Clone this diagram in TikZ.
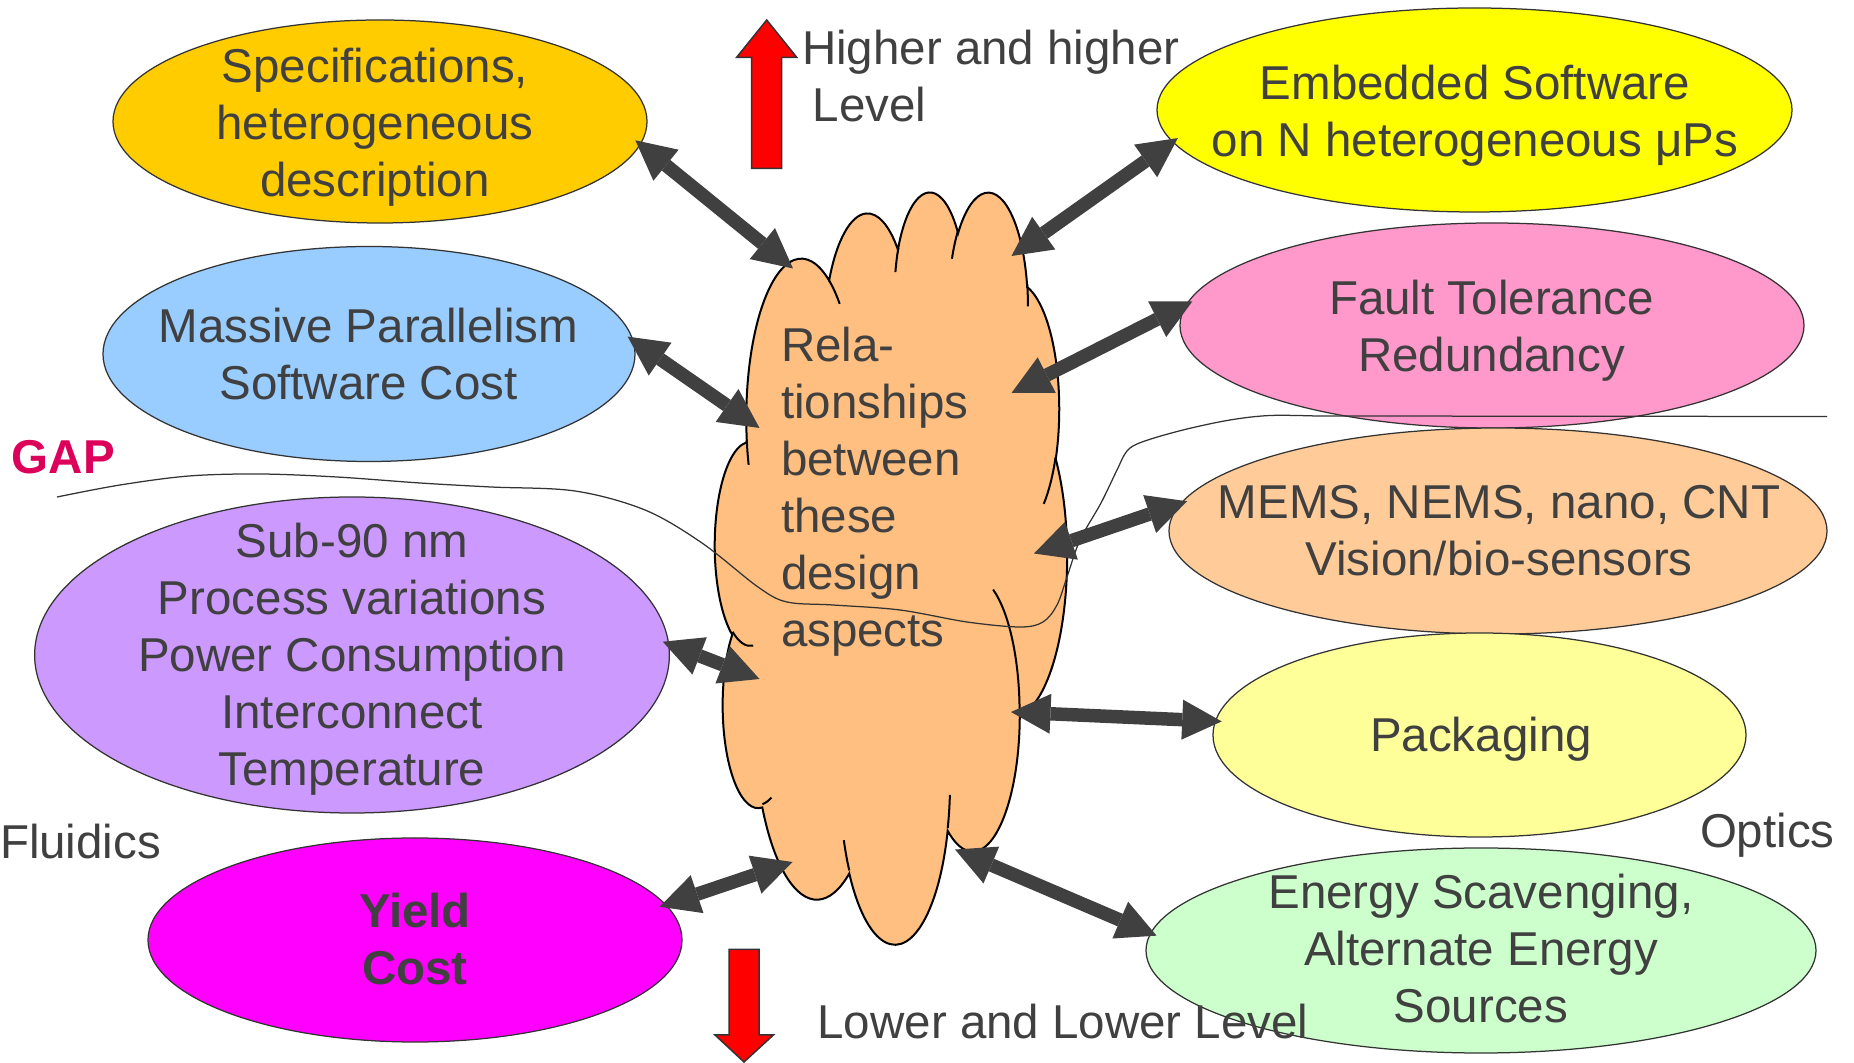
\documentclass[tikz,border=0pt]{standalone}
\usepackage{fontspec}
\setmainfont{Liberation Sans}
\usetikzlibrary{shapes.geometric,arrows.meta}

\definecolor{ink}{RGB}{64,64,64}
\definecolor{edge}{RGB}{51,51,51}
\definecolor{arrowgray}{RGB}{64,64,64}
\definecolor{gapred}{RGB}{221,0,90}
\definecolor{cloudfill}{RGB}{255,191,128}
\definecolor{specfill}{RGB}{255,204,0}
\definecolor{embfill}{RGB}{255,255,0}
\definecolor{parfill}{RGB}{153,204,255}
\definecolor{faultfill}{RGB}{255,153,204}
\definecolor{subfill}{RGB}{204,153,255}
\definecolor{memsfill}{RGB}{255,204,153}
\definecolor{packfill}{RGB}{255,255,153}
\definecolor{yieldfill}{RGB}{255,0,255}
\definecolor{energyfill}{RGB}{204,255,204}

% Parameters of one elliptic arc of the cloud outline:
% #1,#2 radii, #3 start angle and #4 sweep (both measured on the ellipse itself).
\newcommand\cloudarcparams[4]{%
  \pgfmathsetmacro\clA{atan2(#1*sin(#3),#2*cos(#3))}%
  \pgfmathsetmacro\clB{atan2(#1*sin(#3+#4),#2*cos(#3+#4))}%
  \pgfmathsetmacro\clD{Mod(\clB-\clA,360)}%
  \pgfmathsetmacro\clX{#1/432}%
  \pgfmathsetmacro\clY{#2/432}%
}

\begin{document}
\begin{tikzpicture}[x=0.4pt,y=-0.4pt,
  every node/.style={text=ink,inner sep=0pt,outer sep=0pt,
    font=\fontsize{19pt}{22.8pt}\selectfont},
  ell/.style={ellipse,draw=edge,line width=0.5pt},
  conn/.style={draw=arrowgray,line width=5.4pt,
    >={Triangle[length=15.8pt,width=16pt,line width=0pt]},<->,
    shorten <=-2.5pt},
  blockarrow/.style={fill=red,draw=edge,line width=0.6pt,line join=miter},
  cloudline/.style={draw=black,line width=0.8pt},
  gapline/.style={draw=edge,line width=0.5pt}]

\useasboundingbox (0,0) rectangle (1854,1063);

% ---------- topic ellipses ----------
\node[ell,fill=specfill,minimum width=213.6pt,minimum height=81.2pt] (spec) at (380,121.5) {};
\node[ell,fill=embfill,minimum width=254pt,minimum height=81.6pt] (emb) at (1474.5,110) {};
\node[ell,fill=parfill,minimum width=212.8pt,minimum height=86pt] (par) at (369,354) {};
\node[ell,fill=faultfill,minimum width=249.6pt,minimum height=82pt] (fault) at (1492,325.5) {};
\node[ell,fill=subfill,minimum width=253.9pt,minimum height=126.4pt] (sub) at (352,655) {};
\node[ell,fill=memsfill,minimum width=263.2pt,minimum height=82.4pt] (mems) at (1498,531) {};
\node[ell,fill=packfill,minimum width=213.2pt,minimum height=81.6pt] (pack) at (1479.5,735) {};
\node[ell,fill=yieldfill,minimum width=213.6pt,minimum height=81.6pt] (yield) at (415,940) {};
\node[ell,fill=energyfill,minimum width=268pt,minimum height=82pt] (energy) at (1481,950.5) {};

% ---------- central cloud (coordinates in 1/432 of the 43200 grid) ----------
\begin{scope}[shift={(715,190)},x=1pt,y=1pt,cm={1.408,0,0,-3.008,(0,0)}]
  \gdef\cloudpath{}
  \foreach \wr/\hr/\st/\sw in {
      6753/9190/-190.4875/123.7805, 5333/7267/-144.1024/89.9452,
      4365/5945/-145.8079/99.7230, 4857/6595/-130.9861/117.2417,
      5333/7273/-78.7089/109.0269, 6775/9220/-46.2673/130.2690,
      5785/7867/0.6250/114.0333, 6752/9215/22.4516/115.1726,
      7720/10543/66.2426/75.7110, 4360/5918/-274.9421/146.7356,
      4345/5945/-246.8285/152.5189}{%
    \cloudarcparams{\wr}{\hr}{\st}{\sw}%
    \xdef\cloudpath{\cloudpath arc[start angle=\clA,delta angle=\clD,x radius=\clX pt,y radius=\clY pt]}%
  }
  \draw[cloudline,fill=cloudfill] (9.02778,33.26389) \cloudpath -- cycle;
  % inner strokes where the puffs overlap (start points in thousands of grid units)
  \foreach \mx/\my/\wr/\hr/\st/\sw in {
      4.693/26.177/4345/5945/86.7420/26.4295,
      6.928/34.899/4360/5918/73.6105/11.4475,
      16.478/39.090/6752/9215/137.6242/14.0811,
      28.827/34.751/6752/9215/6.4533/15.9984,
      34.129/22.954/5785/7867/-70.2924/70.9174,
      41.798/15.354/5333/7273/30.3180/27.7515,
      38.324/5.426/4857/6595/-13.7443/14.8589,
      29.078/3.952/4857/6595/-149.1815/18.1954,
      22.141/4.720/4365/5945/-163.4943/17.6864,
      14.000/5.192/6753/9190/-66.7070/12.3194,
      4.127/15.789/6753/9190/157.6544/11.8582}{%
    \cloudarcparams{\wr}{\hr}{\st}{\sw}%
    \draw[cloudline] (\mx*2.3148148,\my*2.3148148) arc[start angle=\clA,delta angle=\clD,x radius=\clX pt,y radius=\clY pt];
  }
\end{scope}

% ---------- the GAP boundary line ----------
\draw[gapline] plot[smooth,tension=0.55] coordinates {
  (57,497) (120,485) (189,476) (260,474) (337,477) (420,483) (491,487)
  (575,491) (645,510) (702,543) (758,587) (787,602) (833,605) (900,610)
  (967,622) (1020,627) (1043,622) (1057,605) (1067,577) (1080,540)
  (1101,503) (1117,470) (1127,451) (1142,442) (1183,430) (1230,420)
  (1270,415.5) (1316,416)} -- (1827,416.5);

% ---------- double arrows between the cloud and each topic ----------
\coordinate (cl-spec) at (793,268.5);
\coordinate (cl-emb) at (1011.5,256);
\coordinate (cl-par) at (759.5,428);
\coordinate (cl-fault) at (1011.5,393);
\coordinate (cl-sub) at (759.5,679);
\coordinate (cl-mems) at (1034,553.5);
\coordinate (cl-pack) at (1011,712);
\coordinate (cl-yield) at (792.5,862);
\coordinate (cl-energy) at (955,849.5);

\draw[conn] (spec.-5.33) -- (cl-spec);
\draw[conn] (emb.186.78) -- (cl-emb);
\draw[conn] (par.3.45) -- (cl-par);
\draw[conn] (fault.176.14) -- (cl-fault);
\draw[conn] (sub.2.31) -- (cl-sub);
\draw[conn] (mems.175.65) -- (cl-mems);
\draw[conn] (pack.177.42) -- (cl-pack);
\draw[conn] (yield.8.04) -- (cl-yield);
\draw[conn] (energy.177.71) -- (cl-energy);

% ---------- red level arrows ----------
\draw[blockarrow] (751.7,168.3) -- (751.7,57.3) -- (736.7,57.3) -- (766.7,20)
  -- (796.7,57.3) -- (781.7,57.3) -- (781.7,168.3) -- cycle;
\draw[blockarrow] (729,949.3) -- (759,949.3) -- (759,1035) -- (773.4,1035)
  -- (744,1062) -- (715,1035) -- (729,1035) -- cycle;

% ---------- texts ----------
\node[align=center] (spec-text) at (375,127.6) {Specifications,\\heterogeneous\\description};
\node[align=center] (emb-text) at (1475,116) {Embedded Software\\on N heterogeneous μPs};
\node[align=center] (par-text) at (368.5,354.4) {Massive Parallelism\\Software Cost};
\node[align=center] (fault-text) at (1491.5,331) {Fault Tolerance\\Redundancy};
\node[align=center] (sub-text) at (352,659.3) {Sub-90 nm\\Process variations\\Power Consumption\\Interconnect\\Temperature};
\node[align=center] (mems-text) at (1499,530.7) {MEMS, NEMS, nano, CNT\\Vision/bio-sensors};
\node[align=center] (pack-text) at (1481,739.3) {Packaging};
\node[align=center,font=\fontsize{19pt}{22.8pt}\selectfont\bfseries] (yield-text) at (415,939.4) {Yield\\Cost};
\node[align=center] (energy-text) at (1481,949) {Energy Scavenging,\\Alternate Energy\\Sources};

\node[align=left,anchor=west] (cloud-text) at (781,491.4) {Rela-\\tionships\\between\\these\\design\\aspects};

\node[align=left,anchor=west] (up-text) at (802,76) {Higher and higher\\\hspace*{0.225em}Level};
\node[anchor=base west] (down-text) at (817.5,1039) {Lower and Lower Level};
\node[anchor=base west,text=gapred,font=\fontsize{19pt}{22.8pt}\selectfont\bfseries] (gap) at (12,474) {GAP};
\node[anchor=base west] (fluidics) at (0,859) {Fluidics};
\node[anchor=base west] (optics) at (1700,848) {Optics};

\end{tikzpicture}
\end{document}
